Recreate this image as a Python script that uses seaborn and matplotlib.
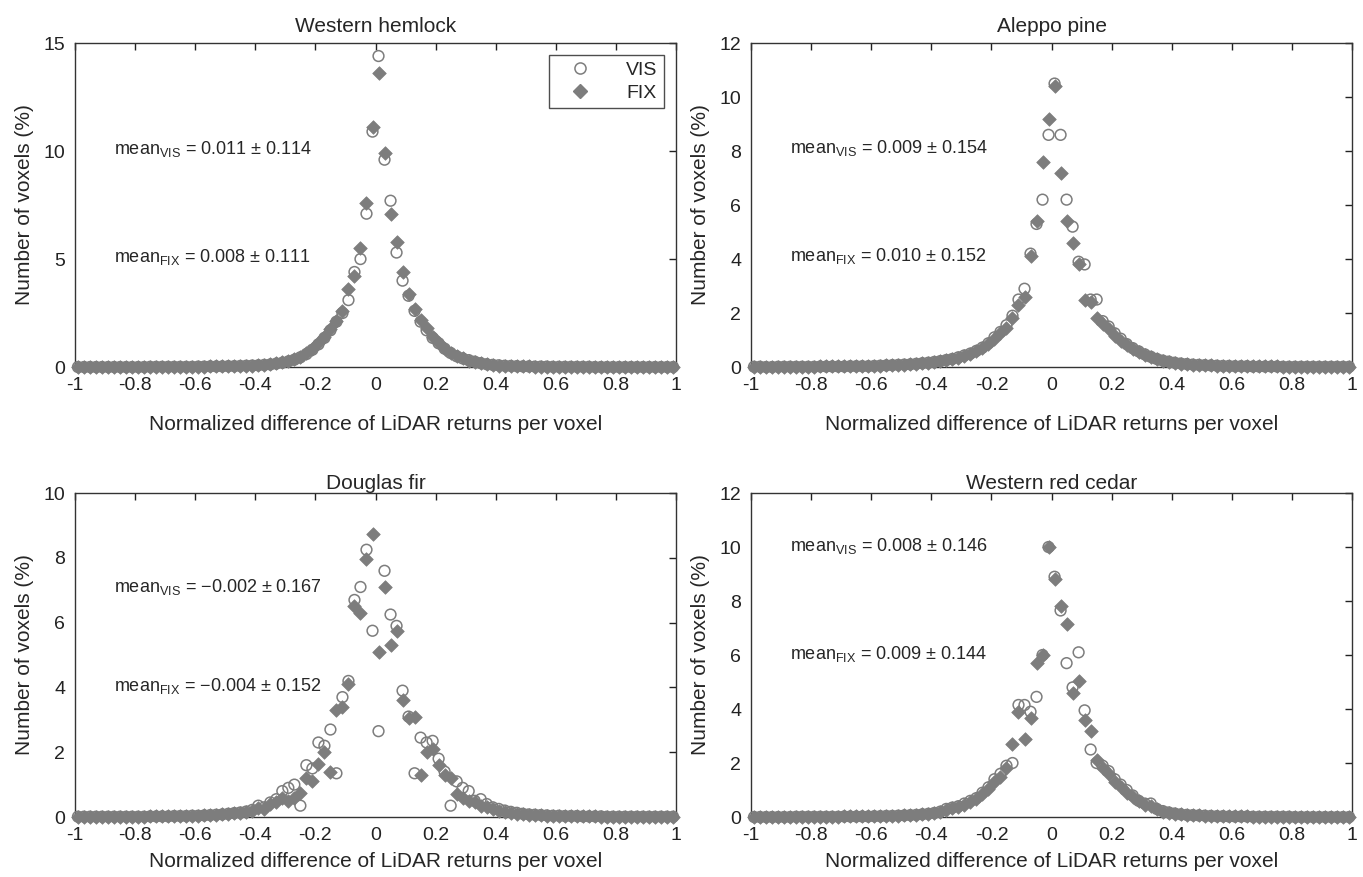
import numpy as np
import pandas as pd
import matplotlib
matplotlib.use("Agg")
import matplotlib.pyplot as plt
from matplotlib.lines import Line2D
import seaborn as sns

# ---------------- data ----------------
BIN_CENTERS = np.round(np.linspace(-0.99, 0.99, 100), 2)

TITLES = ["Western hemlock", "Aleppo pine", "Douglas fir", "Western red cedar"]
XTICKS = [-1, -0.8, -0.6, -0.4, -0.2, 0, 0.2, 0.4, 0.6, 0.8, 1]
XTICK_LABELS = ["-1", "-0.8", "-0.6", "-0.4", "-0.2", "0", "0.2", "0.4", "0.6", "0.8", "1"]
YMAX = [15, 12, 10, 12]
YSTEP = [5, 2, 2, 2]
MEAN_VIS = ["0.011 $\\pm$ 0.114", "0.009 $\\pm$ 0.154", "\u22120.002 $\\pm$ 0.167", "0.008 $\\pm$ 0.146"]
MEAN_FIX = ["0.008 $\\pm$ 0.111", "0.010 $\\pm$ 0.152", "\u22120.004 $\\pm$ 0.152", "0.009 $\\pm$ 0.144"]
TEXT_Y_VIS = [10.1, 8.1, 7.1, 10.05]
TEXT_Y_FIX = [5.1, 4.1, 4.05, 6.05]

# Western hemlock
hemlock_vis = [0.00, 0.00, 0.00, 0.00, 0.00, 0.00, 0.00, 0.00, 0.00, 0.00,
               0.00, 0.00, 0.01, 0.01, 0.01, 0.01, 0.01, 0.01, 0.01, 0.01,
               0.02, 0.02, 0.03, 0.03, 0.03, 0.04, 0.04, 0.05, 0.06, 0.07,
               0.08, 0.10, 0.12, 0.16, 0.20, 0.26, 0.34, 0.45, 0.60, 0.80,
               1.05, 1.35, 1.70, 2.10, 2.50, 3.10, 4.40, 5.00, 7.10, 10.90,
               14.40, 9.60, 7.70, 5.30, 4.00, 3.30, 2.60, 2.10, 1.70, 1.35,
               1.10, 0.85, 0.65, 0.50, 0.40, 0.32, 0.25, 0.18, 0.13, 0.10,
               0.08, 0.06, 0.05, 0.04, 0.03, 0.03, 0.02, 0.02, 0.02, 0.01,
               0.01, 0.01, 0.01, 0.01, 0.01, 0.01, 0.00, 0.00, 0.00, 0.00,
               0.00, 0.00, 0.00, 0.00, 0.00, 0.00, 0.00, 0.00, 0.00, 0.00]
hemlock_fix = [0.00, 0.00, 0.00, 0.00, 0.00, 0.00, 0.00, 0.00, 0.00, 0.00,
               0.00, 0.00, 0.01, 0.01, 0.01, 0.01, 0.01, 0.01, 0.01, 0.01,
               0.02, 0.02, 0.03, 0.03, 0.03, 0.04, 0.04, 0.05, 0.06, 0.07,
               0.08, 0.10, 0.13, 0.17, 0.22, 0.28, 0.36, 0.47, 0.63, 0.85,
               1.10, 1.40, 1.75, 2.15, 2.60, 3.60, 4.20, 5.50, 7.60, 11.10,
               13.60, 9.90, 7.10, 5.80, 4.40, 3.40, 2.70, 2.20, 1.80, 1.40,
               1.10, 0.85, 0.65, 0.50, 0.40, 0.30, 0.23, 0.17, 0.12, 0.09,
               0.07, 0.06, 0.05, 0.04, 0.03, 0.03, 0.02, 0.02, 0.02, 0.01,
               0.01, 0.01, 0.01, 0.01, 0.01, 0.01, 0.00, 0.00, 0.00, 0.00,
               0.00, 0.00, 0.00, 0.00, 0.00, 0.00, 0.00, 0.00, 0.00, 0.00]

# Aleppo pine
aleppo_vis = [0.01, 0.01, 0.00, 0.00, 0.01, 0.01, 0.01, 0.01, 0.01, 0.01,
              0.01, 0.02, 0.02, 0.02, 0.02, 0.02, 0.03, 0.03, 0.03, 0.03,
              0.04, 0.05, 0.06, 0.07, 0.08, 0.09, 0.10, 0.12, 0.14, 0.16,
              0.19, 0.22, 0.26, 0.30, 0.36, 0.43, 0.50, 0.60, 0.72, 0.88,
              1.10, 1.30, 1.55, 1.90, 2.50, 2.90, 4.20, 5.30, 6.20, 8.60,
              10.50, 8.60, 6.20, 5.20, 3.90, 3.80, 2.50, 2.50, 1.70, 1.50,
              1.25, 1.05, 0.85, 0.70, 0.58, 0.47, 0.38, 0.30, 0.24, 0.20,
              0.16, 0.13, 0.11, 0.09, 0.08, 0.07, 0.06, 0.05, 0.04, 0.04,
              0.03, 0.03, 0.03, 0.02, 0.02, 0.02, 0.02, 0.02, 0.01, 0.01,
              0.01, 0.01, 0.01, 0.01, 0.01, 0.01, 0.01, 0.01, 0.01, 0.01]
aleppo_fix = [0.01, 0.01, 0.01, 0.01, 0.01, 0.01, 0.01, 0.01, 0.01, 0.01,
              0.01, 0.02, 0.02, 0.02, 0.02, 0.02, 0.03, 0.03, 0.03, 0.03,
              0.04, 0.05, 0.06, 0.07, 0.08, 0.09, 0.10, 0.12, 0.14, 0.16,
              0.18, 0.21, 0.25, 0.29, 0.34, 0.41, 0.48, 0.58, 0.70, 0.85,
              1.05, 1.25, 1.45, 1.80, 2.30, 2.60, 4.10, 5.40, 7.60, 9.20,
              10.40, 7.20, 5.40, 4.60, 3.80, 2.50, 2.40, 1.80, 1.60, 1.40,
              1.15, 0.95, 0.80, 0.65, 0.54, 0.44, 0.36, 0.28, 0.23, 0.19,
              0.15, 0.12, 0.10, 0.09, 0.08, 0.07, 0.06, 0.05, 0.04, 0.04,
              0.03, 0.03, 0.03, 0.02, 0.02, 0.02, 0.02, 0.02, 0.01, 0.01,
              0.01, 0.01, 0.01, 0.01, 0.01, 0.01, 0.01, 0.01, 0.01, 0.01]

# Douglas fir
douglas_vis = [0.01, 0.01, 0.01, 0.01, 0.01, 0.01, 0.01, 0.01, 0.01, 0.01,
               0.01, 0.01, 0.02, 0.02, 0.02, 0.02, 0.03, 0.03, 0.03, 0.04,
               0.04, 0.05, 0.06, 0.07, 0.08, 0.10, 0.12, 0.14, 0.17, 0.22,
               0.35, 0.30, 0.45, 0.55, 0.80, 0.90, 1.00, 0.35, 1.60, 1.50,
               2.30, 2.20, 2.70, 1.35, 3.70, 4.20, 6.70, 7.10, 8.25, 5.75,
               2.65, 7.60, 6.25, 5.90, 3.90, 3.10, 1.35, 2.45, 2.30, 2.35,
               1.80, 1.40, 0.35, 1.10, 0.90, 0.80, 0.50, 0.55, 0.40, 0.30,
               0.25, 0.20, 0.16, 0.13, 0.10, 0.08, 0.07, 0.06, 0.05, 0.04,
               0.04, 0.03, 0.03, 0.03, 0.02, 0.02, 0.02, 0.02, 0.01, 0.01,
               0.01, 0.01, 0.01, 0.01, 0.01, 0.01, 0.01, 0.01, 0.01, 0.01]
douglas_fix = [0.01, 0.01, 0.01, 0.01, 0.01, 0.01, 0.01, 0.01, 0.01, 0.01,
               0.01, 0.01, 0.02, 0.02, 0.02, 0.02, 0.03, 0.03, 0.03, 0.04,
               0.04, 0.05, 0.06, 0.07, 0.08, 0.10, 0.11, 0.13, 0.16, 0.20,
               0.28, 0.25, 0.40, 0.45, 0.60, 0.50, 0.60, 0.75, 1.20, 1.10,
               1.65, 2.00, 1.40, 3.30, 3.40, 4.10, 6.50, 6.30, 7.95, 8.75,
               5.10, 7.10, 5.30, 5.75, 3.60, 3.05, 3.10, 1.30, 2.00, 2.10,
               1.60, 1.30, 1.20, 0.70, 0.60, 0.50, 0.45, 0.35, 0.30, 0.25,
               0.20, 0.16, 0.13, 0.10, 0.08, 0.07, 0.06, 0.05, 0.04, 0.04,
               0.03, 0.03, 0.03, 0.02, 0.02, 0.02, 0.02, 0.01, 0.01, 0.01,
               0.01, 0.01, 0.01, 0.01, 0.01, 0.01, 0.01, 0.01, 0.01, 0.01]

# Western red cedar
cedar_vis = [0.00, 0.00, 0.00, 0.00, 0.00, 0.00, 0.00, 0.01, 0.01, 0.01,
             0.01, 0.01, 0.01, 0.01, 0.01, 0.02, 0.02, 0.02, 0.02, 0.02,
             0.03, 0.03, 0.04, 0.04, 0.05, 0.06, 0.07, 0.08, 0.10, 0.12,
             0.15, 0.20, 0.30, 0.35, 0.40, 0.50, 0.60, 0.70, 0.90, 1.10,
             1.40, 1.60, 1.90, 2.00, 4.15, 4.15, 3.90, 4.45, 6.00, 10.00,
             8.90, 7.65, 5.70, 4.80, 6.10, 3.95, 2.50, 2.00, 1.90, 1.70,
             1.40, 1.20, 1.00, 0.80, 0.60, 0.50, 0.50, 0.30, 0.22, 0.17,
             0.13, 0.10, 0.08, 0.07, 0.06, 0.05, 0.04, 0.03, 0.03, 0.02,
             0.02, 0.02, 0.02, 0.01, 0.01, 0.01, 0.01, 0.01, 0.01, 0.01,
             0.00, 0.00, 0.00, 0.00, 0.00, 0.00, 0.00, 0.00, 0.00, 0.00]
cedar_fix = [0.00, 0.00, 0.00, 0.00, 0.00, 0.00, 0.00, 0.01, 0.01, 0.01,
             0.01, 0.01, 0.01, 0.01, 0.01, 0.02, 0.02, 0.02, 0.02, 0.02,
             0.03, 0.03, 0.04, 0.04, 0.05, 0.06, 0.07, 0.08, 0.10, 0.12,
             0.14, 0.18, 0.25, 0.32, 0.38, 0.45, 0.55, 0.65, 0.85, 1.05,
             1.30, 1.50, 1.80, 2.70, 3.90, 2.90, 3.65, 5.70, 6.00, 10.00,
             8.80, 7.80, 7.15, 4.60, 5.05, 3.60, 3.20, 2.10, 1.80, 1.60,
             1.30, 1.10, 0.90, 0.75, 0.58, 0.45, 0.40, 0.28, 0.20, 0.15,
             0.12, 0.10, 0.08, 0.07, 0.06, 0.05, 0.04, 0.03, 0.03, 0.02,
             0.02, 0.02, 0.02, 0.01, 0.01, 0.01, 0.01, 0.01, 0.01, 0.01,
             0.00, 0.00, 0.00, 0.00, 0.00, 0.00, 0.00, 0.00, 0.00, 0.00]

VIS_SERIES = [hemlock_vis, aleppo_vis, douglas_vis, cedar_vis]
FIX_SERIES = [hemlock_fix, aleppo_fix, douglas_fix, cedar_fix]

# ---------------- style ----------------
sns.set_style("white")
plt.rcParams["font.family"] = ["Liberation Sans", "DejaVu Sans"]
plt.rcParams["mathtext.fontset"] = "custom"
plt.rcParams["mathtext.rm"] = "Liberation Sans"
plt.rcParams["mathtext.it"] = "Liberation Sans:italic"
plt.rcParams["mathtext.default"] = "regular"

GRAY = "#7d7d7d"
FS = 13
LABEL_FS = 15

fig = plt.figure(figsize=(13.63, 8.77), dpi=100)

W, H = 0.441, 0.3694
POS = [(0.055, 0.5815), (0.551, 0.5815), (0.055, 0.0684), (0.551, 0.0684)]
TITLE_PAD = [8, 8, 3, 3]
XLABEL_PAD = [15, 15, 6, 6]

for k in range(4):
    ax = fig.add_axes([POS[k][0], POS[k][1], W, H])
    df = pd.DataFrame({"x": BIN_CENTERS, "VIS": VIS_SERIES[k], "FIX": FIX_SERIES[k]})
    sns.scatterplot(data=df, x="x", y="VIS", ax=ax, marker="o", s=60,
                    color=GRAY, facecolors="none", edgecolor=GRAY,
                    linewidth=1.1, clip_on=False, legend=False, zorder=3)
    sns.scatterplot(data=df, x="x", y="FIX", ax=ax, marker="D", s=48,
                    color=GRAY, edgecolor=GRAY, linewidth=0.5,
                    clip_on=False, legend=False, zorder=4)
    ax.set_xlim(-1, 1)
    ax.set_ylim(0, YMAX[k])
    ax.set_xticks(XTICKS)
    ax.set_xticklabels(XTICK_LABELS)
    ax.set_yticks(np.arange(0, YMAX[k] + 0.1, YSTEP[k]))
    ax.tick_params(direction="in", top=True, right=True, length=5, width=1,
                   labelsize=14, colors="#222222", pad=7)
    for sp in ax.spines.values():
        sp.set_color("#333333")
        sp.set_linewidth(1.0)
    ax.set_title(TITLES[k], fontsize=LABEL_FS, pad=TITLE_PAD[k])
    ax.set_xlabel("Normalized difference of LiDAR returns per voxel",
                  fontsize=LABEL_FS, labelpad=XLABEL_PAD[k])
    ax.set_ylabel("Number of voxels (%)", fontsize=LABEL_FS, labelpad=7)
    ax.text(-0.87, TEXT_Y_VIS[k], "mean$_{VIS}$ = " + MEAN_VIS[k],
            fontsize=FS, va="center", ha="left")
    ax.text(-0.87, TEXT_Y_FIX[k], "mean$_{FIX}$ = " + MEAN_FIX[k],
            fontsize=FS, va="center", ha="left")
    if k == 0:
        handles = [
            Line2D([], [], linestyle="none", marker="o", markersize=8,
                   markerfacecolor="none", markeredgecolor=GRAY, markeredgewidth=1.1),
            Line2D([], [], linestyle="none", marker="D", markersize=7,
                   markerfacecolor=GRAY, markeredgecolor=GRAY),
        ]
        leg = ax.legend(handles, ["VIS", "FIX"], loc="upper right", fontsize=14,
                        frameon=True, fancybox=False, edgecolor="#222222",
                        borderaxespad=0.6, handlelength=2.4, handletextpad=1.2,
                        labelspacing=0.25, borderpad=0.35)
        leg.get_frame().set_linewidth(1.0)

fig.savefig("out.png", dpi=100)
